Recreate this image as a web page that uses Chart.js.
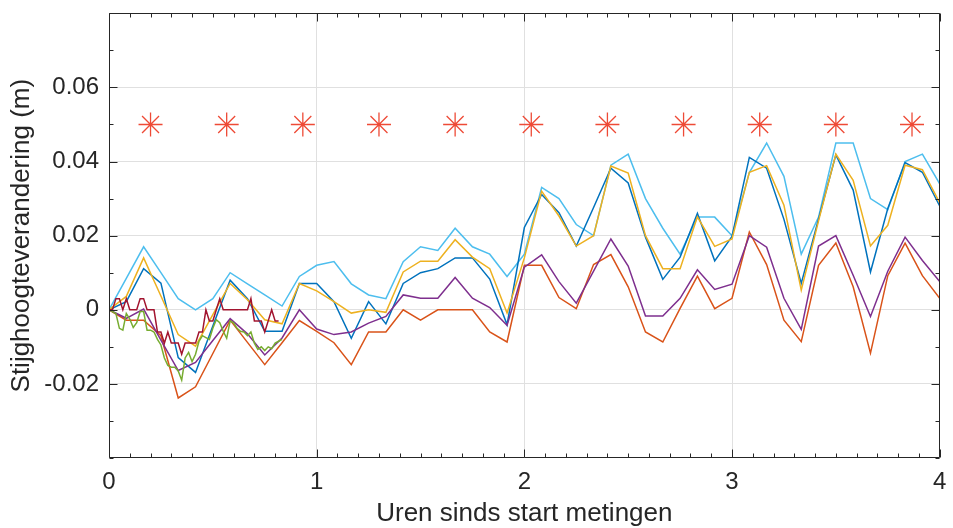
<!DOCTYPE html>
<html><head><meta charset="utf-8">
<script src="https://cdn.jsdelivr.net/npm/chart.js@4/dist/chart.umd.min.js"></script>
<style>html,body{margin:0;padding:0;background:#fff;}#wrap{width:953px;height:528px;}</style>
</head><body><div id="wrap"><canvas id="c" width="953" height="528"></canvas></div>
<script>
// time in minutes since start
const tMain = [0,5,10,15,20,25,30,35,40,45,50,55,60,65,70,75,80,85,90,95,100,105,110,115,120,125,130,135,140,145,150,155,160,165,170,175,180,185,190,195,200,205,210,215,220,225,230,235,240];
const tFine = [0,1,2,3,4,5,6,7,8,9,10,11,12,13,14,15,16,17,18,19,20,21,22,23,24,25,26,27,28,29,30,31,32,33,34,35,36,37,38,39,40,41,42,43,44,45,46,47,48,49,50];
const tStars = [12,34,56,78,100,122,144,166,188,210,232];

// head change (m)
const lichtblauw = [0,0.0085,0.017,0.010,0.003,0,0.003,0.010,0.007,0.004,0.001,0.009,0.012,0.013,0.007,0.004,0.003,0.013,0.017,0.016,0.022,0.017,0.015,0.009,0.015,0.033,0.030,0.023,0.020,0.039,0.042,0.030,0.022,0.015,0.025,0.025,0.020,0.037,0.045,0.036,0.015,0.025,0.045,0.045,0.030,0.027,0.040,0.042,0.034];
const blauw = [0,0.0022,0.0111,0.0072,-0.0129,-0.0169,-0.0044,0.008,0.003,-0.0058,-0.0058,0.0071,0.0071,0.0022,-0.0077,0.0022,-0.0038,0.0071,0.010,0.0111,0.014,0.014,0.0083,-0.004,0.0222,0.0311,0.0262,0.0172,0.0276,0.0382,0.0342,0.0196,0.0082,0.0142,0.026,0.0132,0.0198,0.0411,0.0382,0.0244,0.0071,0.0245,0.0418,0.0323,0.0102,0.0273,0.0397,0.0371,0.028];
const geel = [0,0.0036,0.014,0.0037,-0.0067,-0.0098,-0.0013,0.0071,0.0027,-0.0027,-0.0038,0.0071,0.0051,0.0022,-0.0009,0,-0.0007,0.0102,0.0131,0.0131,0.0189,0.0142,0.0111,-0.0009,0.014,0.032,0.0253,0.0172,0.020,0.0388,0.0369,0.020,0.0111,0.0111,0.0251,0.0171,0.0191,0.0371,0.0389,0.0282,0.0053,0.024,0.042,0.0349,0.0172,0.0228,0.039,0.0378,0.0289];
const paars = [0,-0.0023,0.0002,-0.0082,-0.0164,-0.0142,-0.0083,-0.0024,-0.0065,-0.0122,-0.0076,0,-0.0052,-0.0067,-0.006,-0.0036,-0.0018,0.004,0.0031,0.0031,0.0087,0.0031,0.0006,-0.0042,0.0115,0.0148,0.0076,0.0018,0.0104,0.0191,0.0118,-0.0017,-0.0017,0.0031,0.0108,0.0055,0.0069,0.020,0.0169,0.0031,-0.0053,0.0172,0.020,0.0093,-0.0018,0.0104,0.0196,0.0133,0.0076];
const oranje = [0,-0.0028,-0.0028,-0.007,-0.0238,-0.0208,-0.0118,-0.0028,-0.0088,-0.0148,-0.0089,-0.0029,-0.0058,-0.0089,-0.0148,-0.006,-0.006,0,-0.0028,0,0,0,-0.006,-0.0087,0.012,0.012,0.0033,0.0003,0.0122,0.0149,0.0062,-0.006,-0.0087,0.0004,0.0091,0.0003,0.0031,0.021,0.0122,-0.0028,-0.0086,0.012,0.018,0.0062,-0.0117,0.0092,0.018,0.0092,0.0031];
const groen = [0,-0.0005,-0.001,-0.005,-0.0055,-0.001,-0.0025,-0.0048,-0.0035,-0.0005,-0.0005,-0.0055,-0.0055,-0.006,-0.008,-0.0095,-0.013,-0.015,-0.0155,-0.0155,-0.0165,-0.019,-0.013,-0.0115,-0.014,-0.012,-0.0085,-0.007,-0.0075,-0.008,-0.005,-0.0027,-0.0035,-0.0058,-0.0077,-0.003,-0.0035,-0.005,-0.0058,-0.006,-0.007,-0.006,-0.009,-0.0107,-0.010,-0.011,-0.010,-0.0105,-0.009,-0.0085,-0.008];
const donkerrood = [0,0,0.003,0.003,0,0.003,0,0,0,0.003,0.003,0,0,0,-0.006,-0.006,-0.009,-0.006,-0.009,-0.009,-0.009,-0.012,-0.009,-0.009,-0.009,-0.009,-0.006,-0.006,0,-0.003,-0.003,0,0.003,0,0,0,0,0,0,0,0,0.003,-0.003,-0.003,-0.003,-0.006,-0.003,0,-0.003,-0.003];
const sterren = [0.05,0.05,0.05,0.05,0.05,0.05,0.05,0.05,0.05,0.05,0.05];

const yTicks = [-0.02,0,0.02,0.04,0.06];
const yTickLabels = ['-0.02','0','0.02','0.04','0.06'];
const xTicks = [0,60,120,180,240];
const xTickLabels = ['0','1','2','3','4'];
const yMinor = [-0.04,-0.03,-0.01,0.01,0.03,0.05,0.07,0.08];
const xMinor = [6,12,18,24,30,36,42,48,54,66,72,78,84,90,96,102,108,114,126,132,138,144,150,156,162,168,174,186,192,198,204,210,216,222,228,234];

const pts = (xs, ys) => ys.map((v,i)=>({x:xs[i], y:v}));
const AX = '#262626';
const FONT = '"Liberation Sans", Arial, sans-serif';

function line(label, xs, ys, color){
  return {label, data: pts(xs,ys), borderColor: color, backgroundColor: color, borderWidth: 1.5, pointRadius: 0, tension: 0, fill: false};
}

const boxPlugin = {
  id: 'box',
  afterDraw(chart){
    const {ctx, chartArea: a, scales: {x, y}} = chart;
    ctx.save();
    ctx.strokeStyle = AX; ctx.lineWidth = 1;
    const L = Math.round(a.left)+0.5, R = Math.round(a.right)-0.5, T = Math.round(a.top)+0.5, B = Math.round(a.bottom)-0.5;
    ctx.beginPath();
    ctx.rect(L, T, R-L, B-T);
    ctx.stroke();
    ctx.beginPath();
    const tick = (v, len, isX) => {
      if (isX) { const p = Math.round(x.getPixelForValue(v))+0.5; ctx.moveTo(p,B); ctx.lineTo(p,B-len); ctx.moveTo(p,T); ctx.lineTo(p,T+len); }
      else { const p = Math.round(y.getPixelForValue(v))+0.5; ctx.moveTo(L,p); ctx.lineTo(L+len,p); ctx.moveTo(R,p); ctx.lineTo(R-len,p); }
    };
    xTicks.forEach(v=>tick(v,8,true));
    xMinor.forEach(v=>tick(v,4,true));
    yTicks.forEach(v=>tick(v,8,false));
    yMinor.forEach(v=>tick(v,4,false));
    ctx.stroke();
    ctx.restore();
  }
};

new Chart(document.getElementById('c'), {
  type: 'line',
  data: {
    datasets: [
      {label:'Peilbuis *', data: pts(tStars, sterren), showLine:false, pointStyle:'star', pointRadius:12, pointBorderColor:'#EE4A36', pointBackgroundColor:'#EE4A36', pointBorderWidth:1.3, borderColor:'#EE4A36'},
      line('B7', tFine, donkerrood, '#A2142F'),
      line('B6', tFine, groen, '#77AC30'),
      line('B5', tMain, paars, '#7E2F8E'),
      line('B4', tMain, geel, '#EDB120'),
      line('B3', tMain, blauw, '#0072BD'),
      line('B2', tMain, oranje, '#D95319'),
      line('B1', tMain, lichtblauw, '#4DBEEE')
    ]
  },
  options: {
    responsive: false, animation: false, devicePixelRatio: 1,
    layout: {padding: {left: 0, right: 13, top: 10, bottom: 0}},
    plugins: {legend: {display: false}, tooltip: {enabled: false}},
    scales: {
      x: {
        type: 'linear', min: 0, max: 240,
        afterBuildTicks: s => { s.ticks = xTicks.map(v=>({value:v})); },
        afterFit: s => { s.height = 70; s.paddingLeft = 0; s.paddingRight = 0; },
        ticks: {color: AX, font: {family: FONT, size: 24, lineHeight: 1}, padding: 12, maxRotation: 0, autoSkip: false,
          callback: (v, i) => xTickLabels[i]},
        grid: {color: '#E0E0E0', lineWidth: 1, drawTicks: false},
        border: {display: false},
        title: {display: true, text: 'Uren sinds start metingen', color: AX, font: {family: FONT, size: 26, lineHeight: 1}, padding: {top: 0, bottom: 1}}
      },
      y: {
        type: 'linear', min: -0.04, max: 0.08,
        afterBuildTicks: s => { s.ticks = yTicks.map(v=>({value:v})); },
        afterFit: s => { s.width = 109; s.paddingTop = 0; s.paddingBottom = 0; },
        ticks: {color: AX, font: {family: FONT, size: 24, lineHeight: 1}, padding: 10, autoSkip: false,
          callback: (v, i) => yTickLabels[i]},
        grid: {color: '#E0E0E0', lineWidth: 1, drawTicks: false},
        border: {display: false},
        title: {display: true, text: 'Stijghoogteverandering (m)', color: AX, font: {family: FONT, size: 26, lineHeight: 1}, padding: {top: 9, bottom: 0}}
      }
    }
  },
  plugins: [boxPlugin]
});
</script></body></html>
